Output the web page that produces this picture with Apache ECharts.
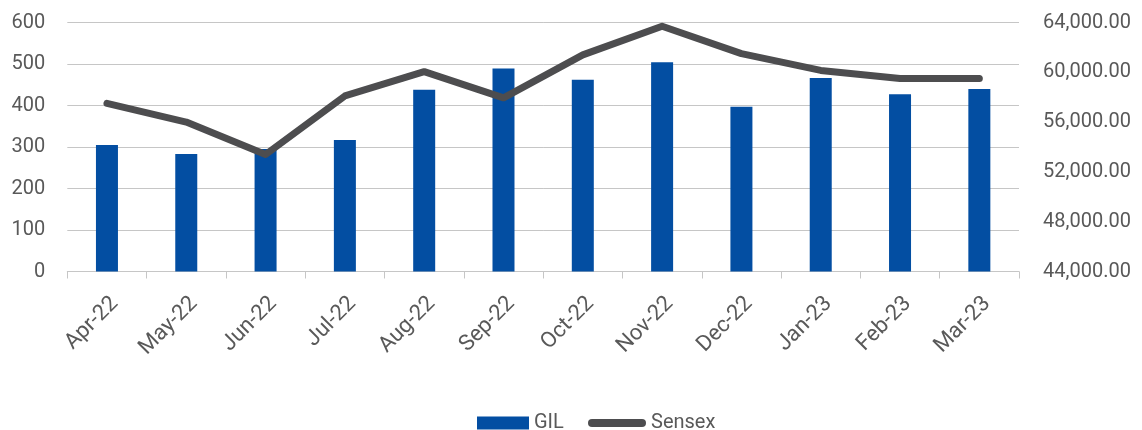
<!DOCTYPE html>
<html>
<head>
<meta charset="utf-8">
<script src="https://cdn.jsdelivr.net/npm/echarts@6/dist/echarts.min.js"></script>
<style>
  html, body { margin: 0; padding: 0; background: #ffffff; }
  #chart { width: 1142px; height: 430px; }
</style>
</head>
<body>
<div id="chart"></div>
<script>
const categories = ['Apr-22', 'May-22', 'Jun-22', 'Jul-22', 'Aug-22', 'Sep-22', 'Oct-22', 'Nov-22', 'Dec-22', 'Jan-23', 'Feb-23', 'Mar-23'];
const gilValues = [305, 283, 295, 317, 438, 489, 462, 504, 397, 466, 427, 440];
const sensexValues = [57500, 56000, 53400, 58100, 60050, 57950, 61400, 63700, 61500, 60150, 59500, 59500];
const leftTicks = { min: 0, max: 600, interval: 100 };
const rightTicks = { min: 44000, max: 64000, interval: 4000 };

const textColor = '#595959';
const fontFamily = 'Roboto, "Liberation Sans", sans-serif';
const gridColor = '#c6c6c6';

const chart = echarts.init(document.getElementById('chart'), null, { renderer: 'canvas' });
chart.setOption({
  animation: false,
  textStyle: { fontFamily: fontFamily },
  grid: { left: 67.3, right: 123, top: 22.5, bottom: 158.5, containLabel: false },
  legend: [
    {
      data: [{ name: 'GIL', icon: 'rect' }],
      left: 472, top: 408, padding: 5,
      itemWidth: 52, itemHeight: 13,
      textStyle: { color: textColor, fontSize: 20, fontFamily: fontFamily },
      selectedMode: false
    },
    {
      data: [{ name: 'Sensex', icon: 'path://M4,0 L54,0 A4,4 0 0 1 54,8 L4,8 A4,4 0 0 1 4,0 Z' }],
      left: 583, top: 408, padding: 5,
      itemWidth: 58, itemHeight: 8,
      itemStyle: { color: '#4d4d4f' },
      textStyle: { color: textColor, fontSize: 20, fontFamily: fontFamily },
      selectedMode: false
    }
  ],
  xAxis: {
    type: 'category',
    data: categories,
    axisLine: { lineStyle: { color: gridColor, width: 1 } },
    axisTick: { show: true, length: 7, lineStyle: { color: gridColor } },
    axisLabel: {
      rotate: 45,
      color: textColor,
      fontSize: 22,
      fontFamily: fontFamily,
      margin: 21,
      verticalAlign: 'top',
      interval: 0
    }
  },
  yAxis: [
    {
      type: 'value',
      min: leftTicks.min, max: leftTicks.max, interval: leftTicks.interval,
      axisLine: { show: false },
      axisTick: { show: false },
      splitLine: { lineStyle: { color: gridColor, width: 1 } },
      axisLabel: { color: textColor, fontSize: 20, fontFamily: fontFamily, margin: 22 }
    },
    {
      type: 'value',
      position: 'right',
      min: rightTicks.min, max: rightTicks.max, interval: rightTicks.interval,
      axisLine: { show: false },
      axisTick: { show: false },
      splitLine: { show: false },
      axisLabel: {
        color: textColor, fontSize: 20, fontFamily: fontFamily, margin: 24,
        formatter: v => v.toLocaleString('en-US', { minimumFractionDigits: 2, maximumFractionDigits: 2 })
      }
    }
  ],
  series: [
    {
      name: 'GIL',
      type: 'bar',
      yAxisIndex: 0,
      data: gilValues,
      barWidth: 22,
      itemStyle: { color: '#034ea2' }
    },
    {
      name: 'Sensex',
      type: 'line',
      yAxisIndex: 1,
      data: sensexValues,
      symbol: 'none',
      showSymbol: false,
      lineStyle: { color: '#4d4d4f', width: 7, cap: 'round', join: 'round' },
      itemStyle: { color: '#4d4d4f' }
    }
  ]
});
</script>
</body>
</html>
